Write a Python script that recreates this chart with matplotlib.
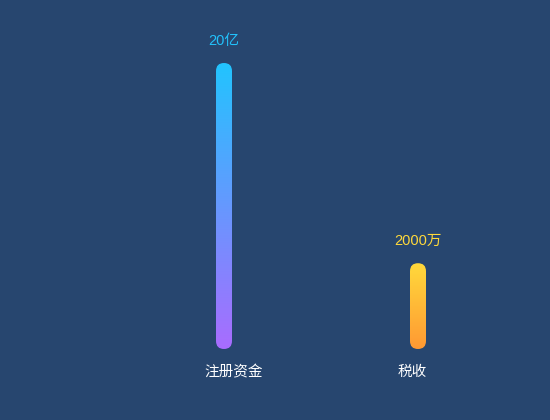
import numpy as np
import matplotlib
import matplotlib.pyplot as plt
from matplotlib.patches import FancyBboxPatch
from matplotlib.colors import LinearSegmentedColormap

matplotlib.use("agg")
plt.rcParams["font.family"] = ["Liberation Sans", "Noto Sans CJK SC", "DejaVu Sans"]

# data
categories = ["注册资金", "税收"]
bar_heights = [100, 30]
value_labels = ["20亿", "2000万"]
label_colors = ["#22c1fb", "#ffd93b"]
grad_top = ["#22c4fe", "#ffd93b"]
grad_bottom = ["#a96cff", "#ff9933"]

BG = "#27466f"
W, H = 550, 420

fig = plt.figure(figsize=(W / 100, H / 100), dpi=100, facecolor=BG)
ax = fig.add_axes([0, 0, 1, 1])
ax.set_facecolor(BG)
ax.axis("off")

# category 0 at 224px, category 1 at 418px; baseline 71px from bottom
px_x = 194.0
px_y = 286.0 / 100
ax.set_xlim(-224 / px_x, (W - 224) / px_x)
ax.set_ylim(-71 / px_y, (H - 71) / px_y)

bar_w = 16 / px_x
radius = 8 / px_x
aspect = px_x / px_y

for i, h in enumerate(bar_heights):
    x0 = i - bar_w / 2
    patch = FancyBboxPatch(
        (x0, 0), bar_w, h,
        boxstyle=f"round,pad=0,rounding_size={radius}",
        mutation_aspect=aspect,
        facecolor="none", edgecolor="none",
    )
    ax.add_patch(patch)
    cmap = LinearSegmentedColormap.from_list(f"g{i}", [grad_bottom[i], grad_top[i]])
    grad = np.linspace(0, 1, 256).reshape(-1, 1)
    im = ax.imshow(grad, cmap=cmap, aspect="auto", origin="lower",
                   extent=(x0, x0 + bar_w, 0, h), interpolation="bicubic")
    im.set_clip_path(patch)

    ax.annotate(value_labels[i], (i, h), xytext=(0, 22), textcoords="offset pixels",
                ha="center", va="center", color=label_colors[i], fontsize=10.5)

cat_dx = [10, -6]
for i, c in enumerate(categories):
    ax.annotate(c, (i, 0), xytext=(cat_dx[i], -23), textcoords="offset pixels",
                ha="center", va="center", color="white", fontsize=10.5,
                family=["Noto Sans CJK SC", "DejaVu Sans"], weight="medium")

ax.set_xlim(-224 / px_x, (W - 224) / px_x)
ax.set_ylim(-71 / px_y, (H - 71) / px_y)

fig.savefig("out.png", dpi=100, facecolor=BG)
